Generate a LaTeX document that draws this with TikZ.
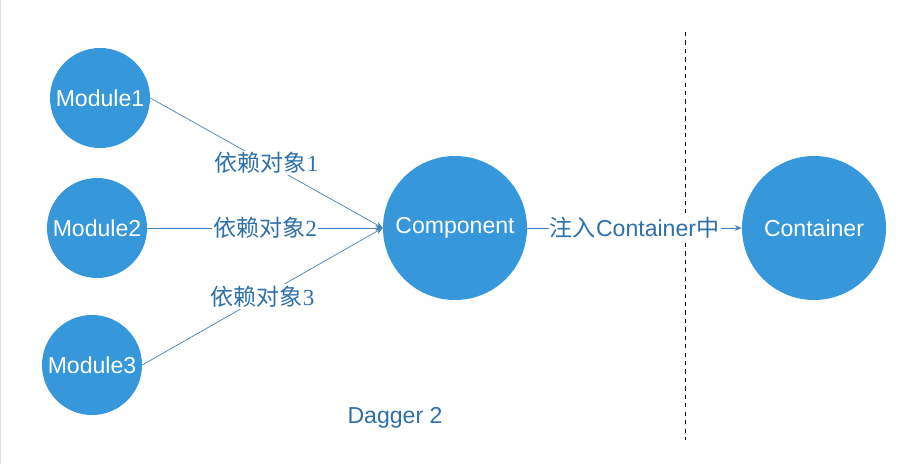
\documentclass[tikz,border=0pt]{standalone}
\usepackage{fontspec}
\setmainfont{Liberation Sans}
\newfontfamily\cjk{Noto Sans CJK SC}
\newfontfamily\digitfont{Liberation Serif}
\usetikzlibrary{positioning}
\usetikzlibrary{arrows.meta}
\definecolor{nodeblue}{RGB}{54,152,219}
\definecolor{labelblue}{RGB}{46,112,170}
\definecolor{lineblue}{RGB}{70,130,185}
\tikzset{small/.style = {circle, fill = nodeblue, text = white, minimum size = 100*0.025cm, inner sep = 0, font = \fontsize{16.4}{18}\selectfont}}
\tikzset{big/.style = {small, minimum size = 144*0.025cm}}
\tikzset{dep/.style = {fill = white, text = labelblue, inner sep = 1pt, font = \fontsize{16.4}{18}\selectfont\cjk}}
\tikzset{link/.style = {draw = lineblue, line width = 0.5pt}}
\newcommand{\dep}[1]{依赖对象{\digitfont #1}}

\begin{document}
\begin{tikzpicture}[x=0.025cm, y=-0.025cm]
    \useasboundingbox (0,0) rectangle (924,464);
    \draw[black!12] (0.5,0) -- (0.5,464);
    \node[small] (m1) at (100,98) {Module1};
    \node[small] (m2) at (97,228) {Module2};
    \node[small] (m3) at (92,365) {Module3};
    \node[big] (comp) at (455,228) {Component};
    \node[big] (cont) at (814,228) {Container};
    \draw[dashed, line width = 0.5pt] (685,32) -- (685,440);
    \draw[link, -{Stealth[length=5pt, width=4pt]}] (m1.east) -- node[dep] {\dep{1}} (comp.west);
    \draw[link, -{Stealth[length=5pt, width=4pt]}] (m2.east) -- node[dep] {\dep{2}} (comp.west);
    \draw[link, -{Stealth[length=5pt, width=4pt]}] (m3.east) -- node[dep] {\dep{3}} (comp.west);
    \draw[link, -{Stealth[length=5pt, width=4pt]}] (comp.east) -- node[dep, font = \fontsize{16.4}{18}\selectfont] {{\cjk 注入}Container{\cjk 中}} (cont.west);
    \node[text = labelblue, font = \fontsize{16.4}{18}\selectfont] (title) at (395,418) {Dagger 2};
\end{tikzpicture}
\end{document}
